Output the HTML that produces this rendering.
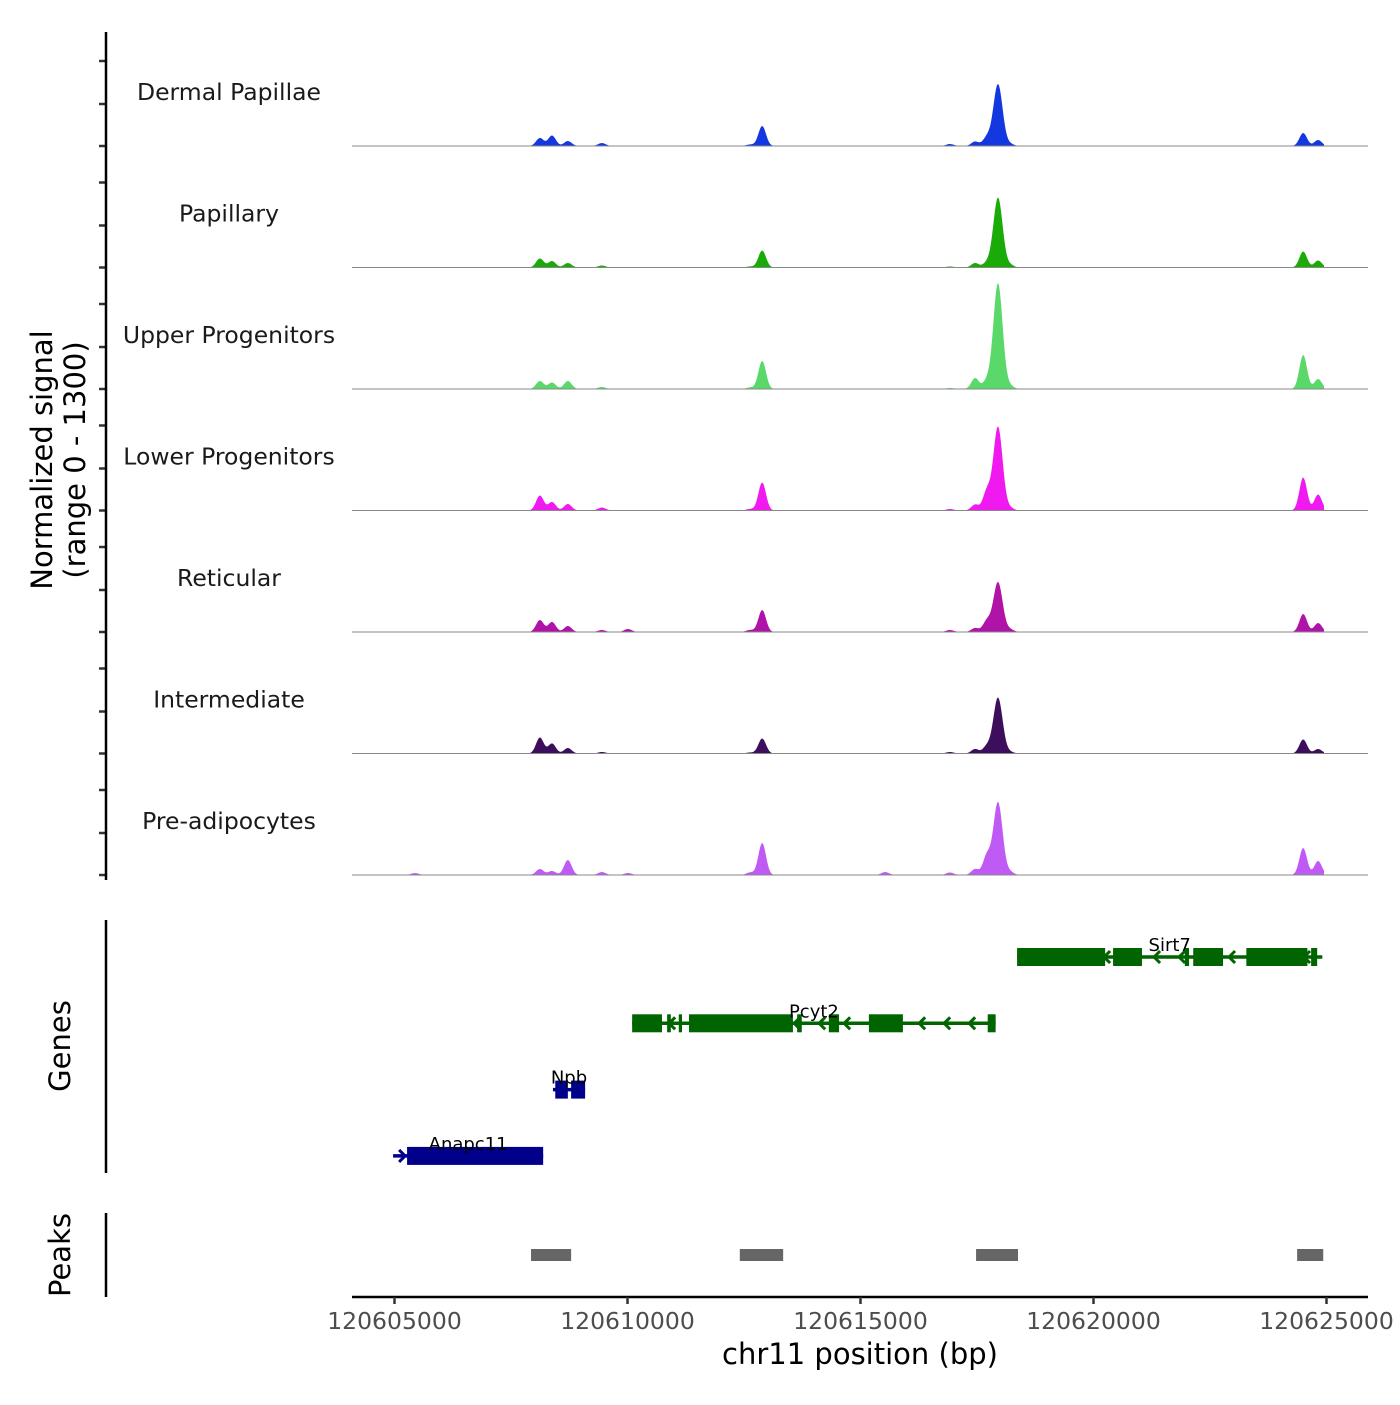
<!DOCTYPE html>
<html><head><meta charset="utf-8"><style>
body{margin:0;background:#fff}
svg text{font-family:"DejaVu Sans","Liberation Sans",sans-serif}
</style></head><body>
<svg id="c" width="1400" height="1400" viewBox="0 0 1400 1400" xmlns="http://www.w3.org/2000/svg">
<g id="g"></g>
</svg>
<script>
const tracks = ["Dermal Papillae","Papillary","Upper Progenitors","Lower Progenitors","Reticular","Intermediate","Pre-adipocytes"];
const colors = ["#1438e0","#1aab08","#5ad86a","#f019f0","#b013a8","#3c0e5c","#c05af5"];
const peakPos = [120605440,120608120,120608380,120608720,120609450,120610010,120612630,120612890,120615530,120616920,120617460,120617710,120617950,120618210,120624500,120624820];
const sigDermal = [0,80,105,50,30,0,15,200,0,20,45,85,620,20,130,60];
const sigPapillary = [0,90,65,45,20,0,10,170,0,10,45,45,700,25,160,70];
const sigUpper = [0,80,65,80,20,0,15,280,0,10,110,80,1060,30,340,100];
const sigLower = [0,150,85,65,30,0,15,280,0,15,60,190,840,25,330,160];
const sigReticular = [0,120,100,60,20,30,20,220,0,20,40,110,500,25,180,90];
const sigInter = [0,160,100,55,15,0,10,150,0,15,45,70,560,15,140,45];
const sigPre = [20,60,40,150,30,20,25,320,30,25,60,190,730,30,270,140];
const signals = [sigDermal,sigPapillary,sigUpper,sigLower,sigReticular,sigInter,sigPre];
const peakRegions = [[120607930,120608790],[120612410,120613340],[120617480,120618380],[120624370,120624930]];
const xTicks = [120605000,120610000,120615000,120620000,120625000];
const genes = [
 {name:"Sirt7",strand:-1,row:0,start:120618360,end:120624910,color:"#006400",
  exons:[[120618360,120620250],[120620420,120621040],[120621960,120622050],[120622140,120622780],[120623280,120624590],[120624670,120624800]]},
 {name:"Pcyt2",strand:-1,row:1,start:120610100,end:120617900,color:"#006400",
  exons:[[120610100,120610740],[120610850,120610930],[120611100,120611170],[120611320,120613550],[120613640,120613740],[120614320,120614540],[120615180,120615910],[120617730,120617900]]},
 {name:"Npb",strand:1,row:2,start:120608400,end:120609090,color:"#00008b",
  exons:[[120608450,120608720],[120608790,120609090]]},
 {name:"Anapc11",strand:1,row:3,start:120604970,end:120608190,color:"#00008b",
  exons:[[120605270,120608190]]}
];
const NS="http://www.w3.org/2000/svg";
const g=document.getElementById('g');
function el(t,a,p){const e=document.createElementNS(NS,t);for(const k in a)e.setAttribute(k,a[k]);(p||g).appendChild(e);return e;}
function x(bp){return 394.5+(bp-120605000)*233/5000;}
const X0=352,X1=1368;
const baseY0=146, trackH=121.5, yScale=0.1;
function yT(i,v){return baseY0+i*trackH - v*yScale;}
tracks.forEach((name,i)=>{
  const sig=signals[i];
  let d="M"+X0+","+yT(i,0);
  for(let px=X0;px<=1324;px+=1){
    const bp=120605000+(px-394.5)*5000/233;
    let v=0;
    peakPos.forEach((p,j)=>{const s=(j===12?4.6:3.8)*5000/233;v+=sig[j]*Math.exp(-0.5*((bp-p)/s)**2);});
    d+=" L"+px+","+yT(i,v).toFixed(2);
  }
  d+=" L1324,"+yT(i,0)+" Z";
  const a=el('path',{d:d,fill:colors[i]});
  
  
  const b=el('line',{x1:X0,x2:X1,y1:yT(i,0),y2:yT(i,0),stroke:'#888','stroke-width':1});
  
  
  const t=el('text',{x:229,y:yT(i,0)-46,'text-anchor':'middle','font-size':23.5,fill:'#1a1a1a'});
  t.textContent=name;
  
  
  [0,42,85].forEach(o=>{el('line',{x1:99,x2:106,y1:yT(i,0)-o,y2:yT(i,0)-o,stroke:'#333','stroke-width':2.5});});
});
el('line',{x1:106,x2:106,y1:32,y2:880,stroke:'#000','stroke-width':2.5});
const yt=el('text',{transform:'translate(52,460) rotate(-90)','text-anchor':'middle','font-size':29,fill:'#000'});
yt.textContent='Normalized signal';


const yt2=el('text',{transform:'translate(85,460) rotate(-90)','text-anchor':'middle','font-size':29,fill:'#000'});
yt2.textContent='(range 0 - 1300)';


el('line',{x1:106,x2:106,y1:920,y2:1173,stroke:'#000','stroke-width':2.5});
const gt=el('text',{transform:'translate(70,1046) rotate(-90)','text-anchor':'middle','font-size':29,fill:'#000'});
gt.textContent='Genes';


genes.forEach(gn=>{
  const y=957+gn.row*66.3;
  const grp=el('g',{});
  
  
  el('line',{x1:x(gn.start),x2:x(gn.end),y1:y,y2:y,stroke:gn.color,'stroke-width':3.5},grp);
  for(let p=x(gn.start)+12;p<x(gn.end)-6;p+=25){
    const dx=gn.strand*6;
    el('polyline',{points:(p-dx)+","+(y-6)+" "+p+","+y+" "+(p-dx)+","+(y+6),fill:'none',stroke:gn.color,'stroke-width':3},grp);
  }
  gn.exons.forEach(e=>{el('rect',{x:x(e[0]),y:y-9,width:Math.max(2,x(e[1])-x(e[0])),height:18,fill:gn.color},grp);});
  const t=el('text',{x:(x(gn.start)+x(gn.end))/2,y:y-6,'text-anchor':'middle','font-size':18,fill:'#000'},grp);
  t.textContent=gn.name;
});
el('line',{x1:106,x2:106,y1:1213,y2:1297,stroke:'#000','stroke-width':2.5});
const pt=el('text',{transform:'translate(70,1255) rotate(-90)','text-anchor':'middle','font-size':29,fill:'#000'});
pt.textContent='Peaks';


peakRegions.forEach(r=>{
  const rc=el('rect',{x:x(r[0]),y:1249,width:x(r[1])-x(r[0]),height:12,fill:'#666'});
  
  
});
el('line',{x1:X0,x2:X1,y1:1297,y2:1297,stroke:'#000','stroke-width':2.5});
xTicks.forEach(v=>{
  el('line',{x1:x(v),x2:x(v),y1:1297,y2:1304,stroke:'#333','stroke-width':2.5});
  const t=el('text',{x:x(v),y:1329,'text-anchor':'middle','font-size':23.5,fill:'#4d4d4d'});
  t.textContent=v;
  
  
});
const xt=el('text',{x:860,y:1364,'text-anchor':'middle','font-size':29,fill:'#000'});
xt.textContent='chr11 position (bp)';


</script>
</body></html>
